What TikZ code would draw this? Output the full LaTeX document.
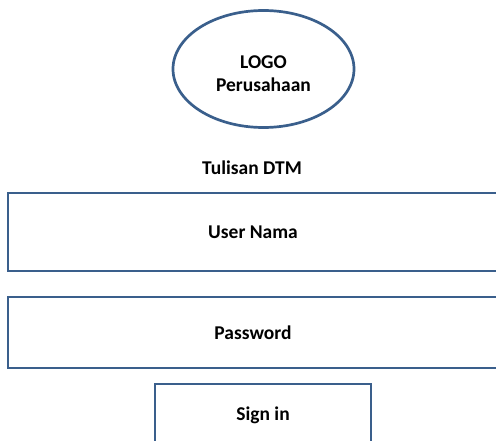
\documentclass[tikz,border=0pt]{standalone}
\usepackage{fontspec}
\setmainfont{Carlito}
\usetikzlibrary{shapes.geometric}
\definecolor{boxblue}{HTML}{3A5F8C}
\tikzset{
	label text/.style={font=\bfseries\fontsize{19.5}{23.5}\selectfont},
	field/.style={draw=boxblue, line width=2.7pt, inner sep=0pt, label text},
}
\begin{document}
\begin{tikzpicture}[x=1pt,y=-1pt]
	% page
	\useasboundingbox (0,0) rectangle (496,441);
	\clip (0,0) rectangle (496,441);
	
	% logo
	\node[field, ellipse, minimum width=181, minimum height=117] (logo) at (263.5,69) {};
	\node[label text, align=center] (logotext) at (263.5,73.5) {LOGO\\Perusahaan};
	
	% title
	\node[label text] (title) at (252,168) {Tulisan DTM};
	
	% input fields
	\foreach \name/\y/\h/\txt in {user/232/78/User Nama, pass/332.5/71/Password} {
		\node[field, minimum width=490, minimum height=\h] (\name) at (253,\y) {\txt};
	}
	
	% button
	\node[field, minimum width=216, minimum height=62] (signin) at (263,415) {Sign in};
\end{tikzpicture}
\end{document}
